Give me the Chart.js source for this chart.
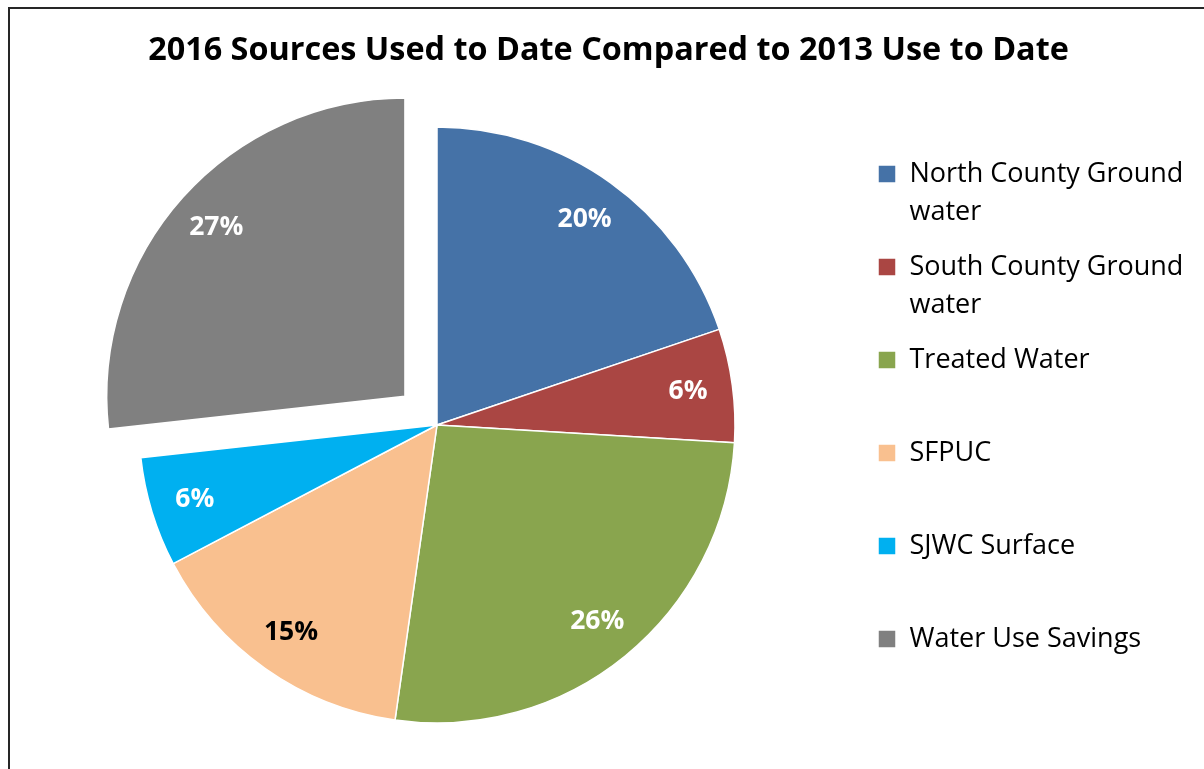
<!DOCTYPE html>
<html>
<head>
<meta charset="utf-8">
<title>2016 Sources Used to Date Compared to 2013 Use to Date</title>
<script src="https://cdn.jsdelivr.net/npm/chart.js@4/dist/chart.umd.min.js"></script>
<style>
  html, body { margin: 0; padding: 0; background: #fff; overflow: hidden; }
  #wrap { position: relative; width: 1204px; height: 769px; overflow: hidden; }
  #frame { position: absolute; left: 8px; top: 7px; width: 1300px; height: 900px;
           border-left: 2px solid #262626; border-top: 2px solid #262626; }
  canvas { position: absolute; left: 0; top: 0; }
</style>
</head>
<body>
<div id="wrap">
  <div id="frame"></div>
  <canvas id="chart" width="1204" height="769"></canvas>
</div>
<script>
// values (share of total, percent)
const chartTitle = '2016 Sources Used to Date Compared to 2013 Use to Date';
const sources = [
  ['North County Ground', 'water'],
  ['South County Ground', 'water'],
  ['Treated Water', ''],
  ['SFPUC', ''],
  ['SJWC Surface', ''],
  ['Water Use Savings', '']
];
const shares = [19.8, 6.15, 26.3, 15.05, 5.95, 26.75];

const sliceColors = ['#4572A7', '#AA4643', '#89A54E', '#F9C08F', '#00B0F0', '#808080'];
const labelColors = ['#fff', '#fff', '#fff', '#000', '#fff', '#fff'];
const explode = [0, 0, 0, 0, 0, 172]; // chart.js moves an arc by offset / 4

// percentage labels inside the slices
const pctLabels = {
  id: 'pctLabels',
  afterDatasetsDraw(chart) {
    const ctx = chart.ctx;
    const ds = chart.data.datasets[0];
    const total = ds.data.reduce((a, b) => a + b, 0);
    ctx.save();
    ctx.font = 'bold 26.5px "Open Sans"';
    ctx.textAlign = 'center';
    ctx.textBaseline = 'middle';
    chart.getDatasetMeta(0).data.forEach((arc, i) => {
      const p = arc.getProps(['x', 'y', 'startAngle', 'endAngle', 'outerRadius']);
      const mid = (p.startAngle + p.endAngle) / 2;
      const r = p.outerRadius * 0.85 + (ds.offset[i] || 0) / 4;
      ctx.fillStyle = labelColors[i];
      ctx.fillText(Math.round(ds.data[i] / total * 100) + '%',
        p.x + Math.cos(mid) * r, p.y + Math.sin(mid) * r);
    });
    ctx.restore();
  }
};

new Chart(document.getElementById('chart'), {
  type: 'pie',
  data: {
    labels: sources,
    datasets: [{
      data: shares,
      backgroundColor: sliceColors,
      borderColor: '#fff',
      borderWidth: 1.5,
      offset: explode
    }]
  },
  options: {
    responsive: false,
    animation: false,
    events: [],
    radius: 298,
    layout: { padding: { left: 13, right: 0, top: 0, bottom: 62.5 } },
    plugins: {
      title: {
        display: true,
        text: chartTitle,
        color: '#000',
        font: { family: '"Open Sans"', size: 32.4, weight: 'bold', lineHeight: '36px' },
        padding: { top: 33, bottom: 74.5 }
      },
      legend: {
        position: 'right',
        align: 'start',
        fullSize: false,
        maxWidth: 343,
        labels: {
          color: '#000',
          boxWidth: 18,
          boxHeight: 18,
          padding: 17,
          font: { family: '"Open Sans"', size: 27, lineHeight: '38px' }
        }
      },
      tooltip: { enabled: false }
    }
  },
  plugins: [pctLabels]
});
</script>
</body>
</html>
